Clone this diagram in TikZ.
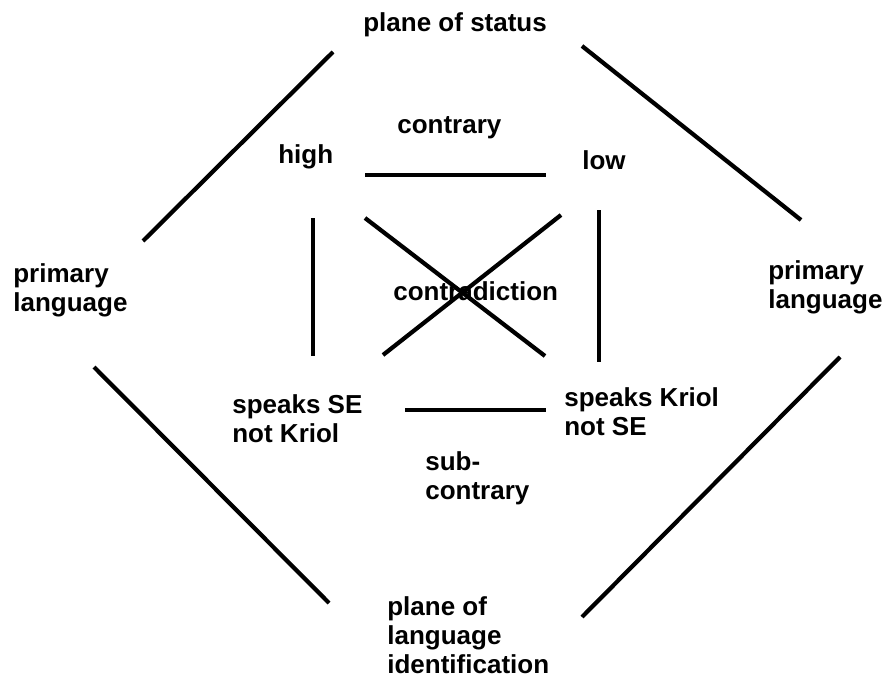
\documentclass[tikz,border=0pt]{standalone}
\usepackage{fontspec}
\setmainfont{Liberation Sans}
\usetikzlibrary{positioning}

\begin{document}
\begin{tikzpicture}[
  x=0.02cm, y=-0.02cm,
  lbl/.style={anchor=base west, inner sep=0pt, align=left,
              font=\fontsize{14.8}{16.5}\selectfont\bfseries},
  bar/.style={line width=2.4pt}
]
  \useasboundingbox (0,0) rectangle (886,679);

  \node[lbl] (status)  at (363,32)  {plane of status};
  \node[lbl] (contr)   at (397,133) {contrary};
  \node[lbl] (high)    at (278,163) {high};
  \node[lbl] (low)     at (582,170) {low};
  \node[lbl] (contra)  at (393,300) {contradiction};
  \node[lbl] (primL)   at (13,311)  {primary\\language};
  \node[lbl] (primR)   at (768,308) {primary\\language};
  \node[lbl] (speakSE) at (232,442) {speaks SE\\not Kriol};
  \node[lbl] (speakKr) at (564,435) {speaks Kriol\\not SE};
  \node[lbl] (subc)    at (425,499) {sub-\\contrary};
  \node[lbl] (ident)   at (387,673) {plane of\\language\\identification};

  \coordinate (ul1) at (333,52);  \coordinate (ul2) at (143,241);
  \coordinate (ur1) at (582,46);  \coordinate (ur2) at (801,220);
  \coordinate (ll1) at (94,367);  \coordinate (ll2) at (329,603);
  \coordinate (lr1) at (840,357); \coordinate (lr2) at (582,617);
  \coordinate (hl)  at (365,175); \coordinate (hr)  at (546,175);
  \coordinate (vl1) at (313,218); \coordinate (vl2) at (313,356);
  \coordinate (vr1) at (599,210); \coordinate (vr2) at (599,362);
  \coordinate (xa1) at (365,218); \coordinate (xa2) at (545,356);
  \coordinate (xb1) at (383,355); \coordinate (xb2) at (561,215);
  \coordinate (bl)  at (405,410); \coordinate (br)  at (546,410);

  \draw[bar] (ul1) -- (ul2);
  \draw[bar] (ur1) -- (ur2);
  \draw[bar] (ll1) -- (ll2);
  \draw[bar] (lr1) -- (lr2);
  \draw[bar] (hl) -- (hr);
  \draw[bar] (vl1) -- (vl2);
  \draw[bar] (vr1) -- (vr2);
  \draw[bar] (xa1) -- (xa2);
  \draw[bar] (xb1) -- (xb2);
  \draw[bar] (bl) -- (br);
\end{tikzpicture}
\end{document}
